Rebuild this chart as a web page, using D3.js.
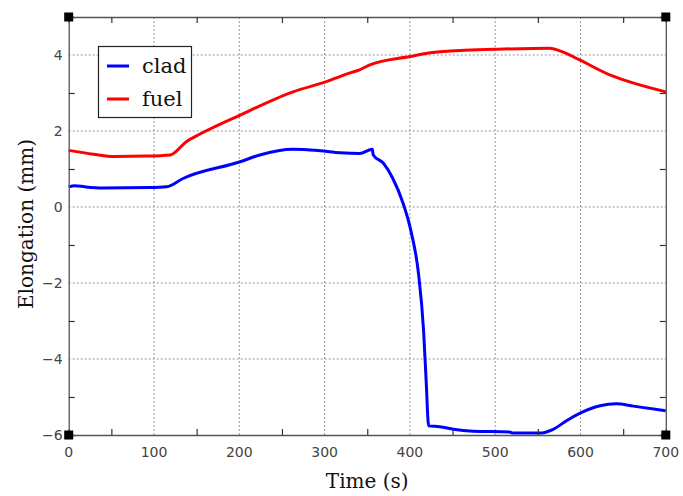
<!DOCTYPE html>
<html><head><meta charset="utf-8">
<script src="https://cdn.jsdelivr.net/npm/d3@7"></script>
<style>body{margin:0;background:#fff}svg{display:block}</style>
</head><body><svg id="c" width="683" height="496"></svg>
<script>
const cladT = [0,7,19,40,95,115,134,201,224,263,295,318,341,356,357,369,380,392,401,410,416,419,422,435,451,474,517,521,552,568,584,599,623,642,662,700];
const cladV = [0.53,0.56,0.53,0.50,0.51,0.53,0.75,1.19,1.37,1.52,1.48,1.43,1.41,1.52,1.37,1.15,0.75,0.10,-0.61,-1.74,-3.24,-4.55,-5.76,-5.78,-5.85,-5.90,-5.92,-5.95,-5.95,-5.85,-5.62,-5.43,-5.23,-5.18,-5.24,-5.36];
const fuelT = [0,29,54,91,119,138,154,201,263,302,330,341,353,400,424,459,498,564,576,599,635,654,700];
const fuelV = [1.49,1.39,1.33,1.34,1.37,1.72,1.92,2.42,3.03,3.30,3.53,3.61,3.74,3.96,4.06,4.12,4.15,4.18,4.11,3.87,3.47,3.32,3.03];
const xMajor = [0,100,200,300,400,500,600,700];
const xMinor = [50,150,250,350,450,550,650];
const yMajor = [-6,-4,-2,0,2,4];
const yMinor = [-5,-3,-1,1,3];
const seriesNames = ["clad","fuel"];
const seriesColors = ["#0000ff","#ff0000"];

const svg = d3.select("#c");
const L=68.7,R=665.8,T=17,B=435;
const x = d3.scaleLinear().domain([0,700]).range([L,R]);
const y = d3.scaleLinear().domain([-6,5]).range([B,T]);

// grid
const grid = svg.append("g").attr("stroke","#999").attr("stroke-dasharray","2,2").attr("stroke-width",1);
xMajor.filter(v=>v>0&&v<700).forEach(v=>grid.append("line").attr("x1",x(v)).attr("x2",x(v)).attr("y1",T).attr("y2",B));
yMajor.filter(v=>v>-6).forEach(v=>grid.append("line").attr("x1",L).attr("x2",R).attr("y1",y(v)).attr("y2",y(v)));

// data lines
const line = d3.line().x(d=>x(d[0])).y(d=>y(d[1])).curve(d3.curveMonotoneX);
const data = [d3.zip(cladT,cladV), d3.zip(fuelT,fuelV)];
data.forEach((d,i)=>svg.append("path").datum(d).attr("d",line).attr("fill","none")
  .attr("stroke",seriesColors[i]).attr("stroke-width",3).attr("stroke-linejoin","round"));

// axes with inner minor ticks
const tick = 6;
const axB = d3.axisBottom(x).tickValues(xMinor).tickSize(-tick).tickFormat("");
const axT = d3.axisTop(x).tickValues(xMinor).tickSize(-tick).tickFormat("");
const axL = d3.axisLeft(y).tickValues(yMinor).tickSize(-tick).tickFormat("");
const axR = d3.axisRight(y).tickValues(yMinor).tickSize(-tick).tickFormat("");
[[axB,`translate(0,${B})`],[axT,`translate(0,${T})`],[axL,`translate(${L},0)`],[axR,`translate(${R},0)`]].forEach(([a,tr])=>{
  const g = svg.append("g").attr("transform",tr).call(a);
  g.select(".domain").attr("stroke","#555").attr("stroke-width",1.3);
  g.selectAll(".tick line").attr("stroke","#333").attr("stroke-width",1.2);
});

// tick labels
const lab = svg.append("g").attr("font-family","DejaVu Sans").attr("font-size",14).attr("fill","#444");
xMajor.forEach(v=>lab.append("text").attr("x",x(v)).attr("y",B+22).attr("text-anchor","middle").text(v));
yMajor.forEach(v=>lab.append("text").attr("x",L-6).attr("y",y(v)+5).attr("text-anchor","end").text(v<0?"\u2212"+(-v):v));

// corner squares
[[L,T],[R,T],[L,B],[R,B]].forEach(([cx,cy])=>svg.append("rect").attr("x",cx-4.5).attr("y",cy-4.5).attr("width",9).attr("height",9).attr("fill","#000"));

// titles
svg.append("text").attr("x",x(350)).attr("y",488).attr("text-anchor","middle").attr("font-family","DejaVu Serif").attr("font-size",20).attr("fill","#111").text("Time (s)");
svg.append("text").attr("transform","translate(33,224) rotate(-90)").attr("text-anchor","middle").attr("font-family","DejaVu Serif").attr("font-size",20).attr("fill","#111").text("Elongation (mm)");

// legend
const lg = svg.append("g");
lg.append("rect").attr("x",98.5).attr("y",46.5).attr("width",93).attr("height",71).attr("fill","#fff").attr("stroke","#222").attr("stroke-width",1.2);
seriesNames.forEach((n,i)=>{
  const yy = 66 + i*33;
  lg.append("line").attr("x1",107).attr("x2",129).attr("y1",yy).attr("y2",yy).attr("stroke",seriesColors[i]).attr("stroke-width",3);
  lg.append("text").attr("x",142).attr("y",yy+7).attr("font-family","DejaVu Serif").attr("font-size",21).attr("fill","#111").text(n);
});
</script></body></html>
